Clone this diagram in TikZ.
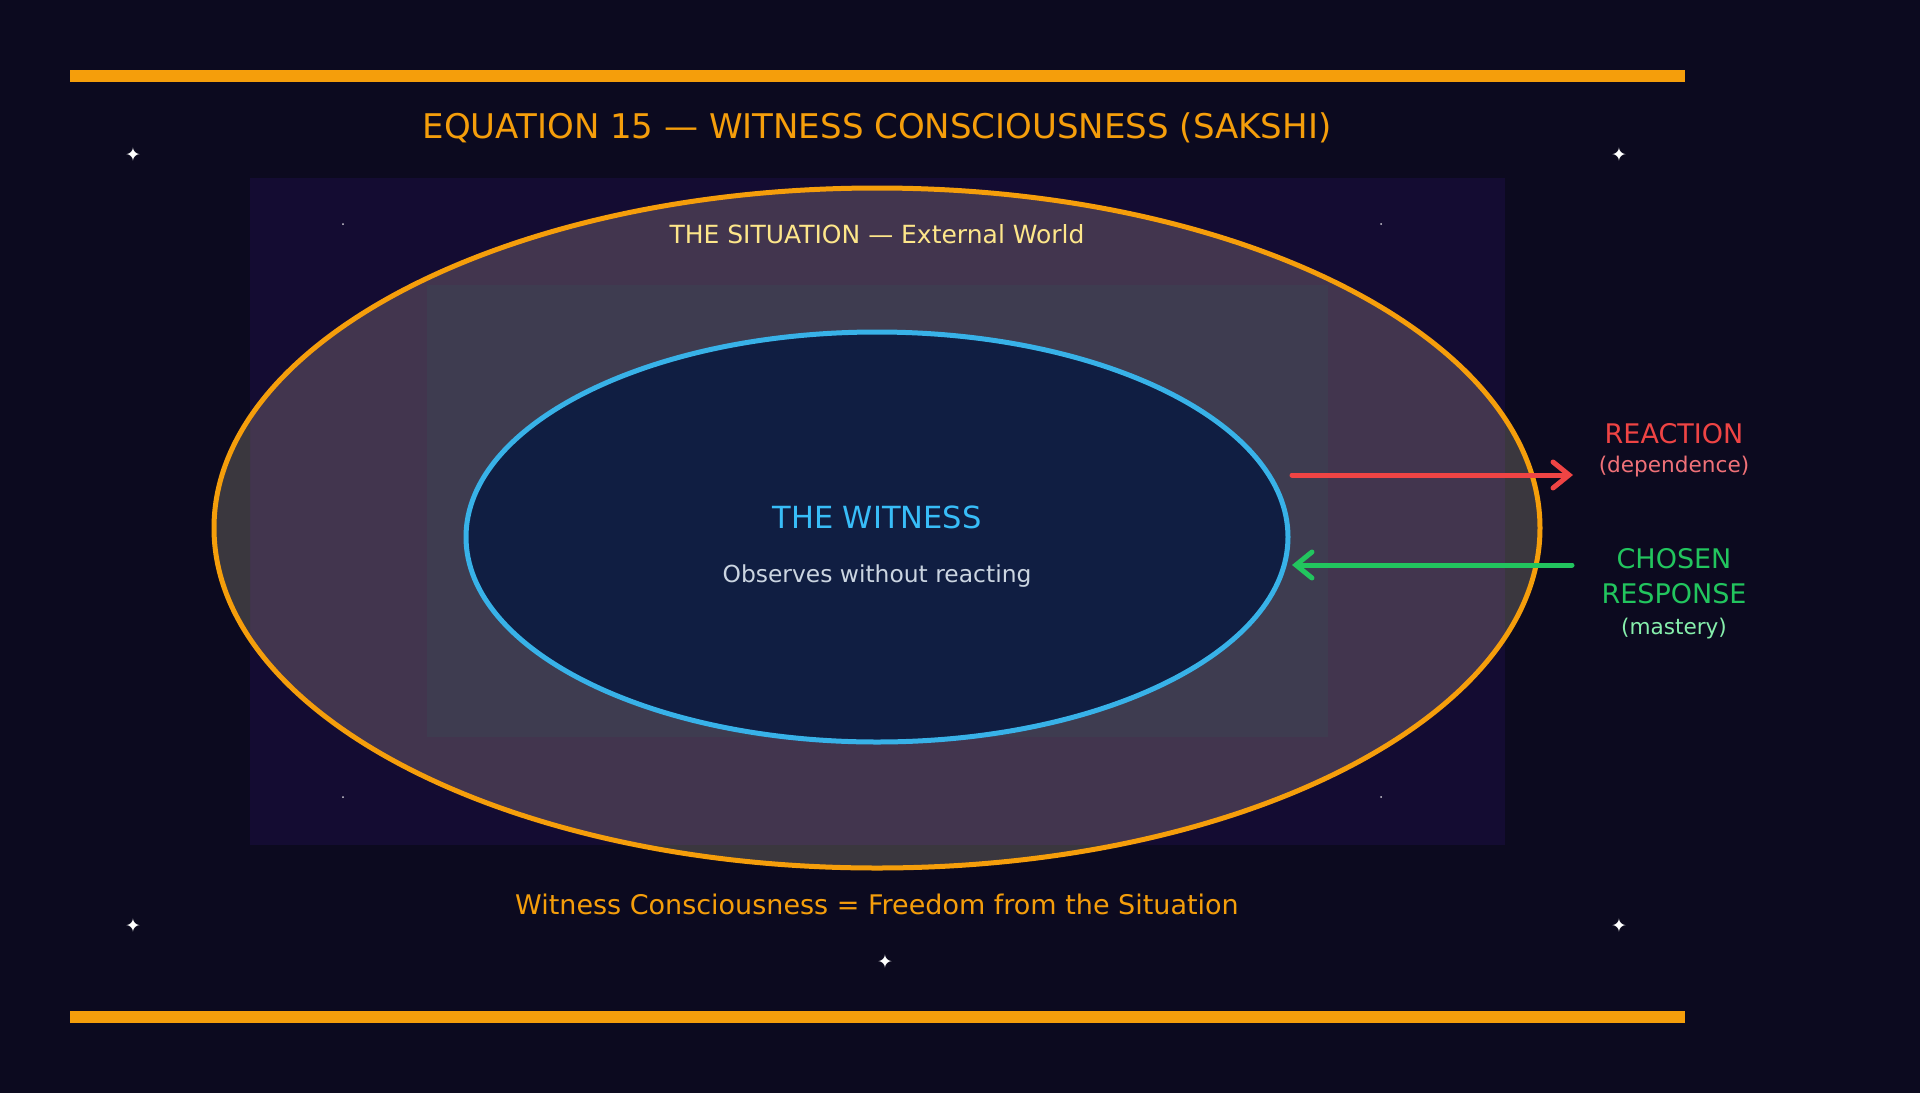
\documentclass[tikz,border=0pt]{standalone}
\usepackage{fontspec}
\setmainfont{DejaVu Sans}
\usetikzlibrary{arrows.meta,shapes.geometric}
\definecolor{bgc}{RGB}{12,10,31}
\definecolor{panel}{RGB}{20,12,50}
\definecolor{ringfill}{RGB}{66,53,78}
\definecolor{ringout}{RGB}{58,55,62}
\definecolor{midfill}{RGB}{62,60,80}
\definecolor{orangec}{RGB}{245,158,11}
\definecolor{skyc}{RGB}{56,178,232}
\definecolor{skytext}{RGB}{56,189,248}
\definecolor{innerfill}{RGB}{16,30,66}
\definecolor{sitc}{RGB}{253,230,138}
\definecolor{obsc}{RGB}{203,213,225}
\definecolor{redc}{RGB}{239,68,68}
\definecolor{redl}{RGB}{240,113,120}
\definecolor{greenc}{RGB}{34,197,94}
\definecolor{greenl}{RGB}{134,239,172}
\tikzset{
  lbl/.style={inner sep=0pt, anchor=base},
  starmark/.style={inner sep=0pt, text=white, font=\fontsize{19}{19}\selectfont},
  dotmark/.style={circle, fill=white, inner sep=0pt, minimum size=2pt, opacity=0.8},
  bar/.style={fill=orangec},
  arr/.style={line width=5pt, line cap=round, -{Straight Barb[length=16pt, width=26pt, line cap=round]}},
}
\begin{document}
\begin{tikzpicture}[x=1pt,y=-1pt]
\useasboundingbox (0,0) rectangle (1920,1093);
\fill[bgc] (0,0) rectangle (1920,1093);
% bars
\fill[bar] (70,70) rectangle (1685,82);
\fill[bar] (70,1011) rectangle (1685,1023);
% panel
\fill[panel] (250,178) rectangle (1505,845);
% outer ellipse fill
\fill[ringfill] (877,528) ellipse [x radius=663pt, y radius=340pt];
\begin{scope}
  \clip (877,528) ellipse [x radius=663pt, y radius=340pt];
  \fill[ringout, even odd rule] (0,0) rectangle (1920,1093) (250,178) rectangle (1505,845);
  \fill[midfill] (427,285) rectangle (1328,737);
\end{scope}
\node[draw=orangec, line width=5pt, ellipse, minimum width=1326pt, minimum height=680pt, inner sep=0pt] (outer) at (877,528) {};
\node[draw=skyc, fill=innerfill, line width=5pt, ellipse, minimum width=822pt, minimum height=410pt, inner sep=0pt] (inner) at (877,537) {};
% title
\node[lbl, text=orangec, font=\fontsize{34}{34}\selectfont] (title) at (877,138) {EQUATION 15 — WITNESS CONSCIOUSNESS (SAKSHI)};
\node[lbl, text=sitc, font=\fontsize{25}{25}\selectfont] (sit) at (877,243) {THE SITUATION — External World};
\node[lbl, text=skytext, font=\fontsize{30.5}{30.5}\selectfont] (wit) at (877,528) {THE WITNESS};
\node[lbl, text=obsc, font=\fontsize{23.4}{23.4}\selectfont] (obs) at (877,582) {Observes without reacting};
\node[lbl, text=orangec, font=\fontsize{27}{27}\selectfont] (foot) at (877,914) {Witness Consciousness = Freedom from the Situation};
% right labels
\node[lbl, text=redc, font=\fontsize{27}{27}\selectfont] (react) at (1674,443) {REACTION};
\node[lbl, text=redl, font=\fontsize{21.6}{21.6}\selectfont] (dep) at (1674,472) {(dependence)};
\node[lbl, text=greenc, font=\fontsize{27}{27}\selectfont] (chosen) at (1674,568) {CHOSEN};
\node[lbl, text=greenc, font=\fontsize{27}{27}\selectfont] (resp) at (1674,603) {RESPONSE};
\node[lbl, text=greenl, font=\fontsize{21.6}{21.6}\selectfont] (mast) at (1674,634) {(mastery)};
% arrows
\coordinate (ra) at (1292,475);
\coordinate (rb) at (1573,475);
\coordinate (ga) at (1572,565);
\coordinate (gb) at (1292,565);
\draw[arr, redc] (ra) -- (rb);
\draw[arr, greenc] (ga) -- (gb);
% stars
\node[starmark] (s1) at (133,155) {✦};
\node[starmark] (s2) at (1619,155) {✦};
\node[starmark] (s3) at (133,926) {✦};
\node[starmark] (s4) at (1619,926) {✦};
\node[starmark] (s5) at (885,962) {✦};
\node[dotmark] (d1) at (343,224) {};
\node[dotmark] (d2) at (1381,224) {};
\node[dotmark] (d3) at (343,797) {};
\node[dotmark] (d4) at (1381,797) {};
\end{tikzpicture}
\end{document}
